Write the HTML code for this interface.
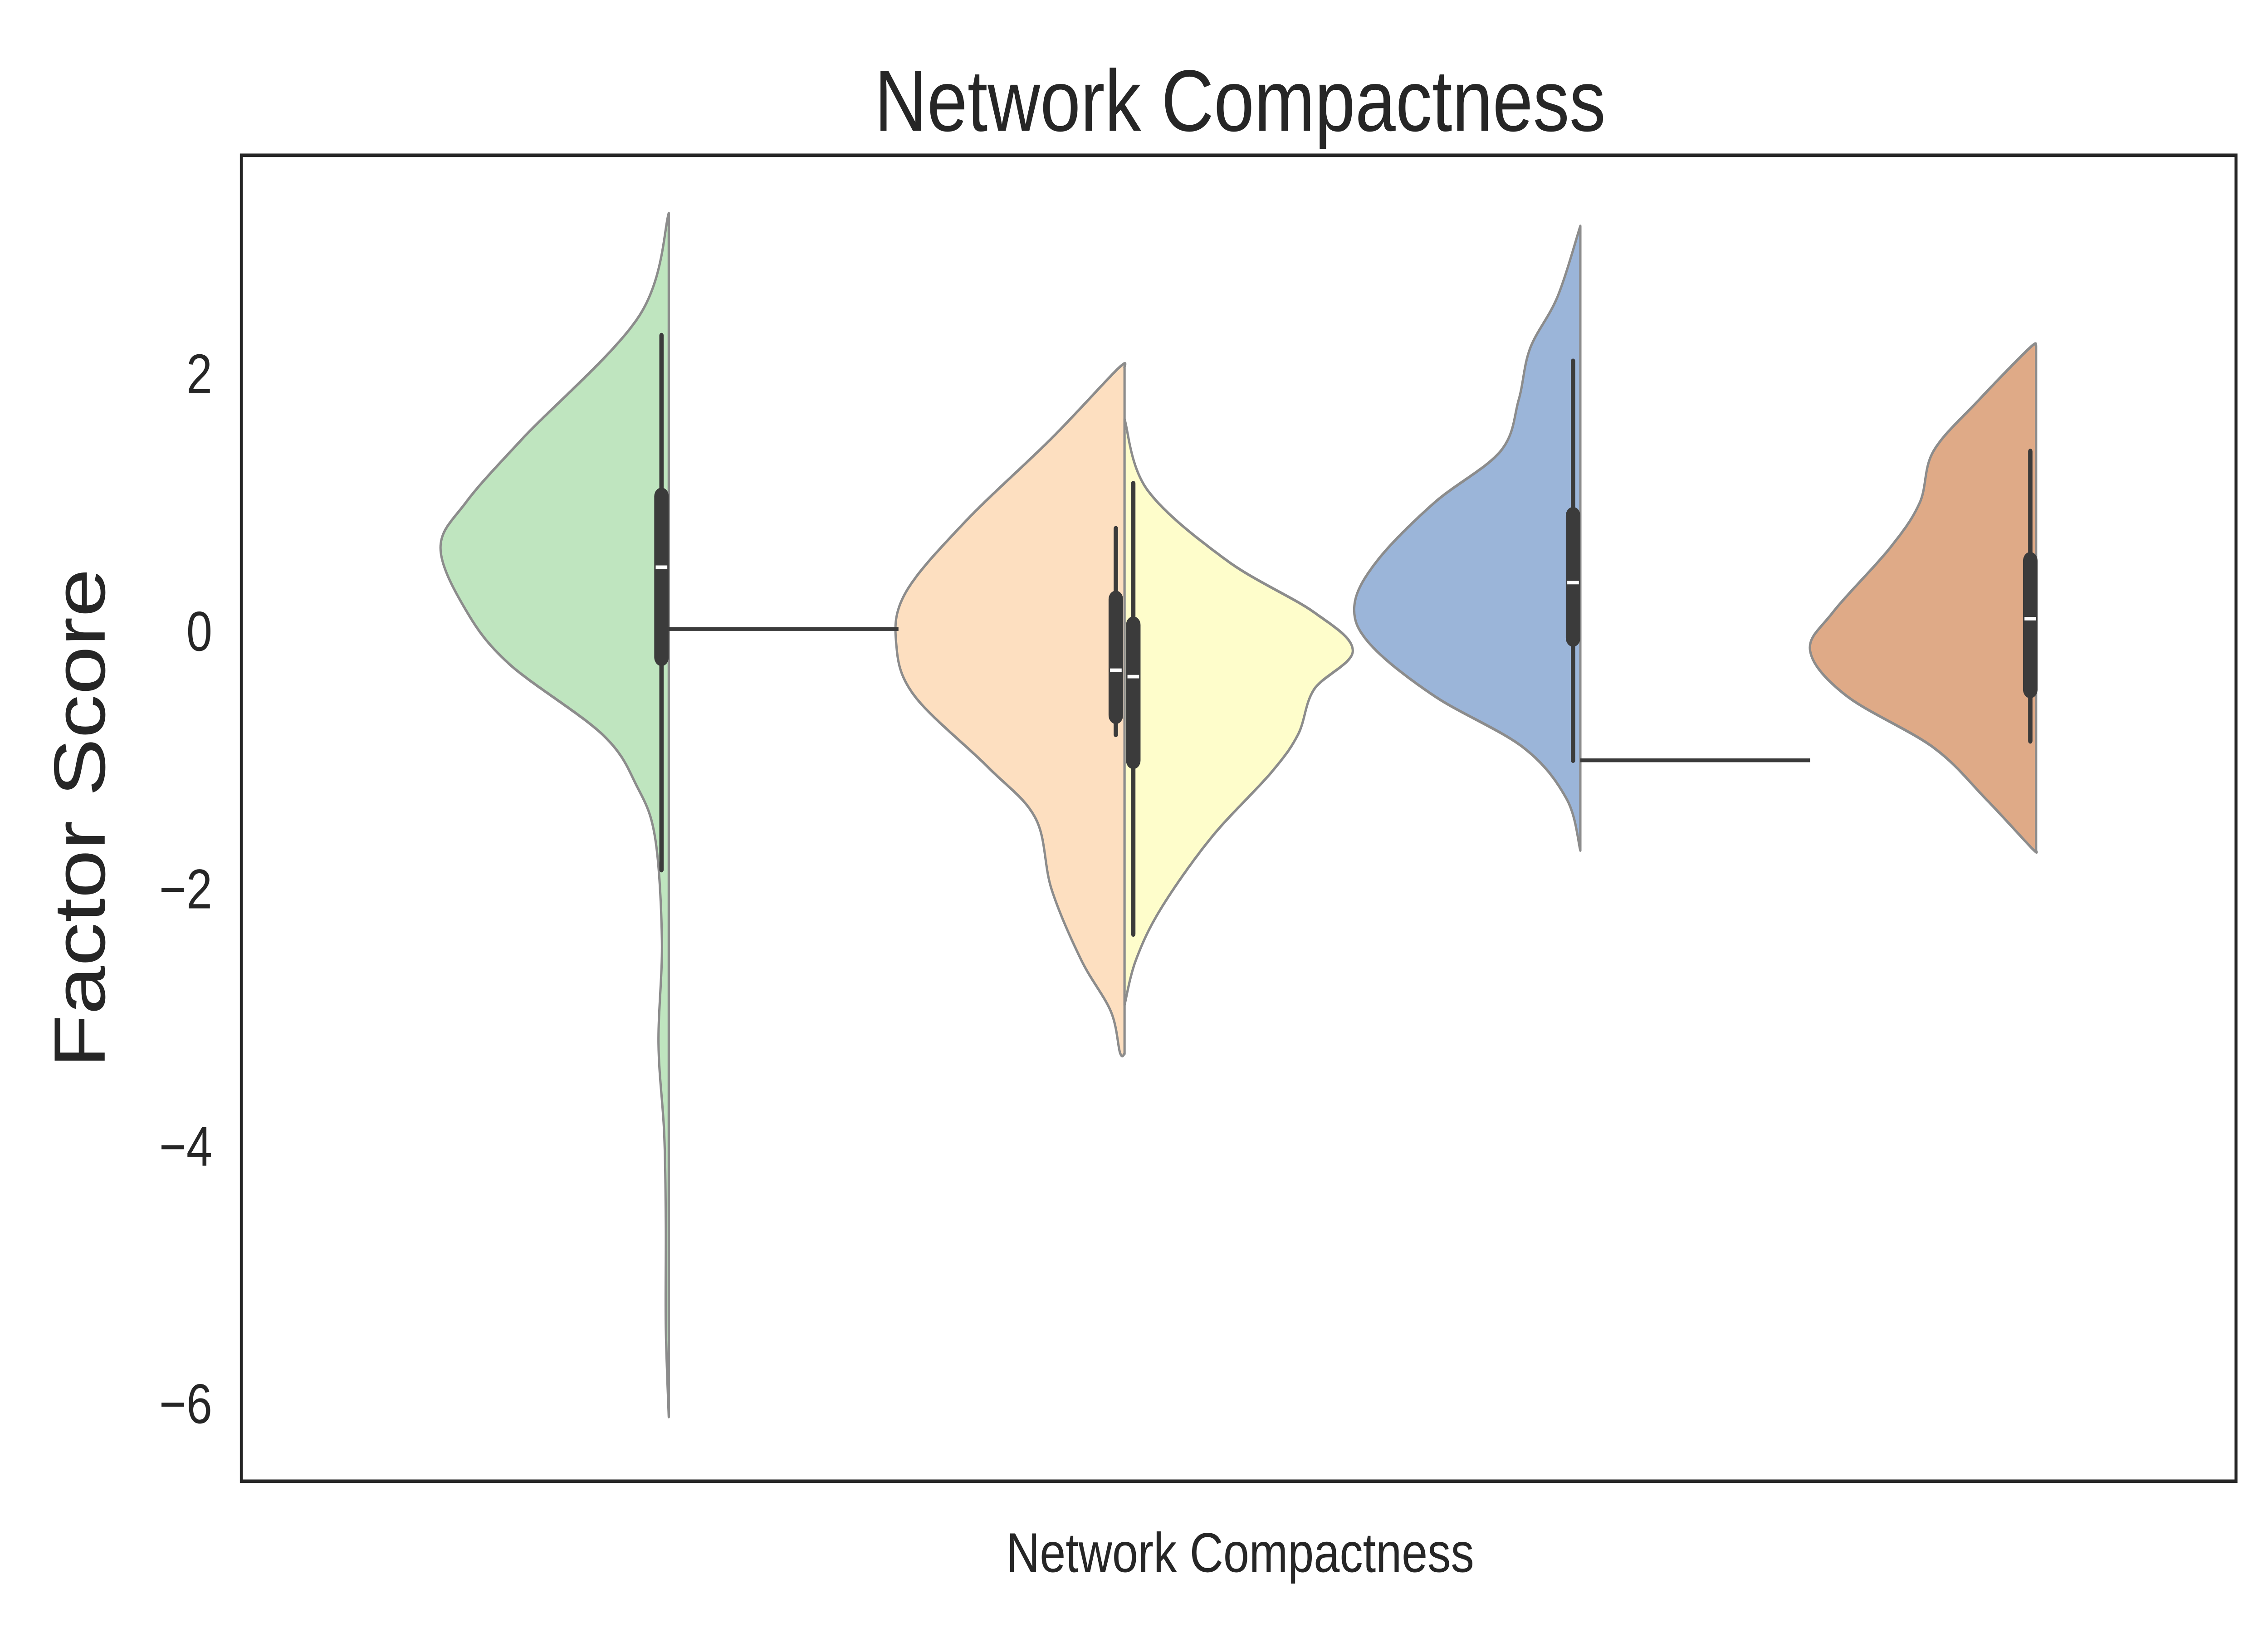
<!DOCTYPE html>
<html><head><meta charset="utf-8"><style>
html,body{margin:0;padding:0;background:#fff;width:100%;height:100%;overflow:hidden}
svg{display:block;width:100vw;height:100vh}
text{font-family:"Liberation Sans",Arial,sans-serif;fill:#262626}
</style></head><body>
<svg id="chart" viewBox="0 0 1560 936" preserveAspectRatio="none" xmlns="http://www.w3.org/2000/svg">
<rect x="0" y="0" width="1560" height="936" fill="#fff"/>
<g id="marks"></g>
<rect x="166" y="89" width="1372" height="760" fill="none" stroke="#262626" stroke-width="2"/>
<text x="853" y="75" font-size="50" text-anchor="middle">Network Compactness</text>
<text transform="translate(72,469) rotate(-90)" font-size="50" text-anchor="middle">Factor Score</text>
<text x="853" y="901" font-size="32" text-anchor="middle">Network Compactness</text>
<g id="yticks"></g>
</svg>
<script>
const tickValues=[2,0,-2,-4,-6];
const tickLabels=["2","0","\u22122","\u22124","\u22126"];
const violinNames=["green","peach","yellow","blue","orange"];
const violinColors=["#bfe5bf","#fddfc0","#fefdcb","#9bb5d9","#dfaa87"];
const violinCenters=[0,1,1,2,3];
const violinSides=[-1,-1,1,-1,-1];
const greenVals=[3.25,2.45,1.5,1.0,0.65,0.17,-0.25,-0.8,-1.2,-1.6,-2.4,-3.2,-3.9,-4.6,-5.4,-6.1];
const greenDens=[0,0.13,0.64,0.89,1.0,0.89,0.7,0.29,0.14,0.06,0.03,0.045,0.02,0.013,0.013,0];
const peachVals=[2.05,2.04,1.5,0.85,0.3,-0.1,-0.5,-1.05,-1.45,-2.0,-2.55,-2.95,-3.27,-3.28];
const peachDens=[0,0.03,0.32,0.7,0.96,1.0,0.92,0.6,0.39,0.32,0.19,0.06,0.02,0];
const yellowVals=[1.65,1.1,0.55,0.15,-0.15,-0.45,-0.8,-1.1,-1.6,-2.15,-2.55,-2.9];
const yellowDens=[0,0.1,0.45,0.83,1.0,0.83,0.76,0.64,0.38,0.16,0.05,0];
const blueVals=[3.15,2.6,2.2,1.8,1.4,1.0,0.55,0.2,-0.1,-0.5,-0.9,-1.3,-1.7];
const blueDens=[0,0.1,0.22,0.27,0.35,0.64,0.89,0.99,0.92,0.64,0.25,0.06,0];
const orangeVals=[2.22,2.2,1.8,1.4,1.0,0.65,0.15,-0.15,-0.5,-0.9,-1.3,-1.68,-1.7];
const orangeDens=[0,0.03,0.25,0.45,0.51,0.64,0.89,0.99,0.83,0.45,0.22,0.02,0];
const whiskerLow=[-1.85,-0.8,-2.35,-1.0,-0.85];
const whiskerHigh=[2.3,0.8,1.15,2.1,1.4];
const q1=[-0.2,-0.65,-1.0,-0.05,-0.45];
const q3=[1.05,0.25,0.05,0.9,0.55];
const medians=[0.5,-0.3,-0.35,0.38,0.1];
const boxOffsets=[-5,-6,6,-5,-4];
const connectorFrom=[0,2];
const connectorValues=[0.02,-1.0];

const allVals=[greenVals,peachVals,yellowVals,blueVals,orangeVals];
const allDens=[greenDens,peachDens,yellowDens,blueDens,orangeDens];
const NS="http://www.w3.org/2000/svg";
function yScale(v){return 362-v*73.8;}
function xScale(c){return 460+c*313.5;}
function widthScale(d){return d*157;}
const marks=document.getElementById('marks');
function mk(tag,attrs){const e=document.createElementNS(NS,tag);for(const k in attrs)e.setAttribute(k,attrs[k]);return e;}
function smooth(pts){
  let d="M"+pts[0][0]+","+pts[0][1];
  for(let i=0;i<pts.length-1;i++){
    const p0=pts[Math.max(0,i-1)],p1=pts[i],p2=pts[i+1],p3=pts[Math.min(pts.length-1,i+2)];
    const c1=[p1[0]+(p2[0]-p0[0])/6,p1[1]+(p2[1]-p0[1])/6];
    const c2=[p2[0]-(p3[0]-p1[0])/6,p2[1]-(p3[1]-p1[1])/6];
    d+=" C"+c1[0]+","+c1[1]+" "+c2[0]+","+c2[1]+" "+p2[0]+","+p2[1];
  }
  return d;
}
violinNames.forEach((n,i)=>{
  const cx=xScale(violinCenters[i]);
  const pts=allVals[i].map((v,j)=>[cx+violinSides[i]*widthScale(allDens[i][j]),yScale(v)]);
  const d=smooth(pts)+" L"+cx+","+yScale(allVals[i][allVals[i].length-1])+" L"+cx+","+yScale(allVals[i][0])+" Z";
  const p=mk('path',{d:d,fill:violinColors[i],stroke:"#8c8c8c","stroke-width":1.6,"stroke-linejoin":"round"});
  
  
  marks.appendChild(p);
});
connectorFrom.forEach((c,i)=>{
  const y=yScale(connectorValues[i]);
  const l=mk('line',{x1:xScale(c),x2:xScale(c)+158,y1:y,y2:y,stroke:"#3b3b3b","stroke-width":2.2});
  
  
  marks.appendChild(l);
});
violinNames.forEach((n,i)=>{
  const bx=xScale(violinCenters[i])+boxOffsets[i];
  const w=mk('line',{x1:bx,x2:bx,y1:yScale(whiskerHigh[i]),y2:yScale(whiskerLow[i]),stroke:"#3b3b3b","stroke-width":3,"stroke-linecap":"round"});
  
  
  marks.appendChild(w);
  const b=mk('line',{x1:bx,x2:bx,y1:yScale(q3[i]),y2:yScale(q1[i]),stroke:"#3b3b3b","stroke-width":10,"stroke-linecap":"round"});
  
  
  marks.appendChild(b);
  const m=mk('line',{x1:bx-4,x2:bx+4,y1:yScale(medians[i]),y2:yScale(medians[i]),stroke:"#fff","stroke-width":2});
  
  
  marks.appendChild(m);
});
const yt=document.getElementById('yticks');
tickValues.forEach((v,i)=>{
  const t=mk('text',{x:146,y:yScale(v)+11,"font-size":32,"text-anchor":"end"});
  t.textContent=tickLabels[i];
  
  
  yt.appendChild(t);
});
</script>
</body></html>
